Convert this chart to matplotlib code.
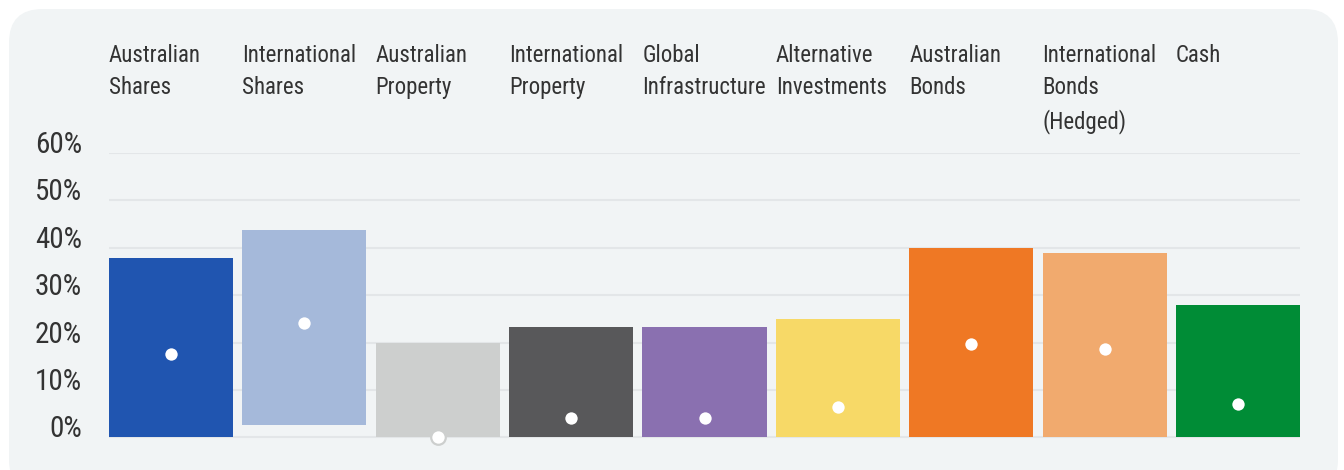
import matplotlib
matplotlib.use("Agg")
import matplotlib.pyplot as plt
from matplotlib import font_manager
from matplotlib.patches import FancyBboxPatch
import matplotlib.transforms as mtransforms

categories = ["Australian\nShares", "International\nShares", "Australian\nProperty",
              "International\nProperty", "Global\nInfrastructure", "Alternative\nInvestments",
              "Australian\nBonds", "International\nBonds\n(Hedged)", "Cash"]
low = [0, 2.7, 0, 0, 0, 0, 0, 0, 0]
high = [37.8, 43.7, 20.0, 23.3, 23.3, 25.0, 40.0, 38.9, 27.9]
dots = [17.5, 24.1, 0.0, 4.0, 4.0, 6.4, 19.7, 18.7, 7.0]
colors = ["#2055b0", "#a5b9da", "#cdcfce", "#58585a", "#8a70b0",
          "#f7d967", "#ef7824", "#f1aa6e", "#008c36"]
yticks = [0, 10, 20, 30, 40, 50, 60]

# condensed font, whichever one is around
have = {f.name for f in font_manager.fontManager.ttflist}
fam = "DejaVu Sans"
for cand in ["Roboto Condensed", "Liberation Sans Narrow", "Archivo Narrow", "Barlow Semi Condensed"]:
    if cand in have:
        fam = cand
        break
plt.rcParams['font.family'] = [fam, 'DejaVu Sans']
txt = "#333333"

W, H = 1344, 470
fig = plt.figure(figsize=(W / 100, H / 100), dpi=100, facecolor="white")

# panel background
bg = FancyBboxPatch((9 / W, -0.05), 1329 / W, (H - 9) / H + 0.05,
                    boxstyle="round,pad=0,rounding_size=0.025",
                    transform=fig.transFigure, facecolor="#f1f4f5", edgecolor="none",
                    mutation_aspect=W / H, zorder=-5)
fig.patches.append(bg)

ax = fig.add_axes([109 / W, 1 - 442.2 / H, 1191 / W, (442.2 - 153) / H])
ax.set_facecolor("none")
x = list(range(len(categories)))
heights = [h - l for h, l in zip(high, low)]
ax.bar(x, heights, bottom=low, width=0.93, color=colors, zorder=2)
for xi, d, c in zip(x, dots, colors):
    ax.plot(xi, d, "o", ms=10.5, mfc="white", mec=c, mew=1.6, zorder=3, clip_on=False)

ax.set_xlim(-0.465, len(categories) - 1 + 0.465)
ax.set_ylim(-1, 60)
ax.set_yticks(yticks)
ax.set_yticklabels([f"{t}%" for t in yticks], fontsize=21, color=txt)
for lab in ax.get_yticklabels():
    lab.set_verticalalignment("baseline")
ax.tick_params(axis="y", length=0, pad=19.5)
ax.set_xticks([])
for s in ax.spines.values():
    s.set_visible(False)
for t in yticks:
    ax.axhline(t, color="#e3e6e8", lw=1.5, zorder=1)

trans = mtransforms.blended_transform_factory(ax.transData, fig.transFigure)
for xi, name in zip(x, categories):
    ax.text(xi - 0.465, 1 - 44 / H, name, transform=trans, ha="left", va="top",
            fontsize=16.5, color=txt, linespacing=1.52)

fig.savefig("out.png", dpi=100, facecolor="white")
